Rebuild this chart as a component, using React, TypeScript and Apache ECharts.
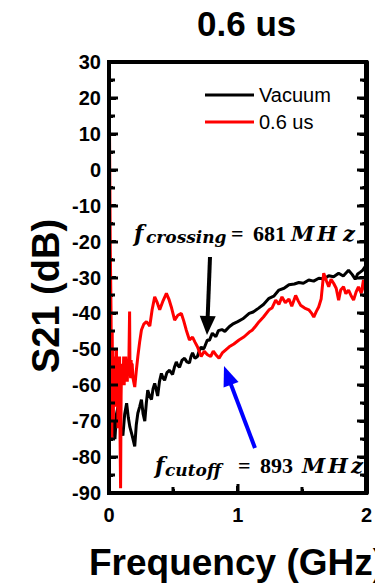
import React, { useEffect, useRef } from "react";
import * as echarts from "echarts";

// ---------- data (GHz, dB) ----------
const vacuumFreq = [
  0.003, 0.008, 0.015, 0.025, 0.035, 0.046, 0.058, 0.07, 0.09, 0.108, 0.122, 0.137, 0.15, 0.162, 0.18, 0.2,
  0.212, 0.224, 0.238, 0.252, 0.265, 0.278, 0.29, 0.301, 0.315, 0.33, 0.342, 0.355, 0.366, 0.378, 0.392, 0.407,
  0.42, 0.432, 0.45, 0.471, 0.483, 0.494, 0.508, 0.523, 0.535, 0.548, 0.568, 0.587, 0.605, 0.625, 0.637, 0.649,
  0.668, 0.687, 0.7, 0.716, 0.73, 0.741, 0.764, 0.78, 0.803, 0.83, 0.85, 0.877, 0.9, 0.934, 0.96, 1.0, 1.04,
  1.089, 1.12, 1.16, 1.2, 1.243, 1.28, 1.32, 1.36, 1.398, 1.44, 1.475, 1.51, 1.552, 1.59, 1.63, 1.67, 1.707, 1.745,
  1.784, 1.82, 1.861, 1.89, 1.913, 1.932, 1.952, 1.97, 1.99,
];
const vacuumS21 = [
  -42, -63, -70, -66, -72, -75, -68, -66, -72, -74, -68, -65, -69, -71.6, -74, -77,
  -71, -67.8, -66, -64, -68, -70, -65, -61.4, -63, -64, -61, -59.5, -61, -63, -59, -56.7,
  -58, -58.6, -56.5, -55.8, -56.5, -57, -55, -53.5, -54.5, -55, -53, -52.5, -53.5, -53.8, -52, -51,
  -52.5, -52, -50.5, -49.3, -50, -49.5, -47.4, -47.5, -45.5, -46.5, -44.8, -44.5, -45, -43.7, -43, -42.3, -41.5,
  -40, -39.6, -38.6, -37.5, -35.8, -35.2, -33.5, -33, -32, -31.8, -31.4, -31.6, -30.7, -31, -30.2, -30.4, -29.5, -29.8,
  -28.8, -29.6, -28, -29.2, -30.5, -29, -28.5, -28, -27,
];

const annealFreq = [
  0.004, 0.007, 0.01, 0.013, 0.016, 0.019, 0.022, 0.025, 0.028, 0.031, 0.034, 0.037, 0.04, 0.043, 0.047, 0.05,
  0.054, 0.058, 0.062, 0.066, 0.07, 0.074, 0.078, 0.082, 0.086, 0.09, 0.094, 0.098, 0.102, 0.106, 0.11, 0.114,
  0.118, 0.122, 0.126, 0.13, 0.134, 0.138, 0.142, 0.146, 0.15, 0.155, 0.16, 0.163, 0.168, 0.172, 0.176, 0.18,
  0.186, 0.2, 0.212, 0.224, 0.238, 0.252, 0.27, 0.291, 0.317, 0.335, 0.355, 0.375, 0.394, 0.42, 0.446, 0.465,
  0.484, 0.51, 0.535, 0.562, 0.58, 0.6, 0.625, 0.649, 0.668, 0.687, 0.716, 0.74, 0.765, 0.79, 0.81, 0.83, 0.855,
  0.88, 0.905, 0.934, 0.97, 1.01, 1.05, 1.09, 1.112, 1.14, 1.166, 1.2, 1.243, 1.266, 1.295, 1.32, 1.344, 1.37,
  1.398, 1.42, 1.45, 1.47, 1.488, 1.52, 1.552, 1.575, 1.591, 1.61, 1.629, 1.648, 1.668, 1.69, 1.707, 1.725,
  1.745, 1.765, 1.784, 1.8, 1.822, 1.84, 1.861, 1.88, 1.9, 1.92, 1.938, 1.96, 1.977, 1.992,
];
const annealS21 = [
  11, -5, -22, -30.7, -40, -58, -75, -45, -62, -50, -70, -53, -60, -52, -66, -54,
  -61, -50, -64, -55, -72, -58, -60, -52, -75, -88.7, -63, -54, -60, -55, -58, -52,
  -60, -54, -58, -52, -57, -53, -59, -54, -56, -52, -39.5, -55, -58, -53, -57, -54,
  -58, -60.5, -56, -52, -48, -44.6, -43, -42.3, -43.5, -39, -35.4, -37, -39, -36.5, -34.4, -36,
  -38.2, -41.9, -40.5, -40, -42, -44.6, -47.4, -46.6, -48, -49.3, -52, -50.5, -51.5, -52, -50.5, -51.5, -52.5,
  -51, -50.2, -49.3, -48.5, -47.4, -46.5, -45.2, -44.7, -43.5, -42.3, -41, -39, -38.5, -36.3, -37.5, -35.4, -37,
  -36, -38, -35, -36.5, -37.7, -38.5, -39, -40, -41, -39.5, -38.2, -36, -28.8, -31, -32.6, -30.5,
  -31.6, -33, -36.3, -33.5, -32.6, -34.5, -33.5, -35, -36.3, -34, -32.6, -34.4, -30.7, -34,
];

const seriesNames = ["Vacuum", "0.6 us"];
const xTickMin = 0;
const xTickMax = 2;
const xTickStep = 1;
const yTickMin = -90;
const yTickMax = 30;
const yTickStep = 10;

const SANS = '"Liberation Sans", Arial, sans-serif';
const SERIF = '"Liberation Serif", "Times New Roman", serif';
const MATH = '"DejaVu Serif", serif';

function zip(xs: number[], ys: number[]) {
  return xs.map((x, i) => [x, ys[i]]);
}

function arrow(tail: number[], tip: number[], color: string, headLen: number, headHalf: number) {
  const dx = tip[0] - tail[0];
  const dy = tip[1] - tail[1];
  const len = Math.sqrt(dx * dx + dy * dy);
  const ux = dx / len;
  const uy = dy / len;
  const bx = tip[0] - ux * headLen;
  const by = tip[1] - uy * headLen;
  const nx = -uy;
  const ny = ux;
  return [
    {
      type: "line",
      shape: { x1: tail[0], y1: tail[1], x2: bx + ux * 2, y2: by + uy * 2 },
      style: { stroke: color, lineWidth: 4 },
      z: 100,
    },
    {
      type: "polygon",
      shape: {
        points: [
          [tip[0], tip[1]],
          [bx + nx * headHalf, by + ny * headHalf],
          [bx - nx * headHalf, by - ny * headHalf],
        ],
      },
      style: { fill: color },
      z: 100,
    },
  ];
}

function txt(x: number, y: number, text: string, font: string) {
  return {
    type: "text",
    x,
    y,
    z: 100,
    style: { text, font, fill: "#000", textAlign: "left", textVerticalAlign: "middle" },
  };
}

function makeAxis(kind: "x" | "y", position: string, labels: boolean, ticks: boolean) {
  const isX = kind === "x";
  return {
    type: "value",
    min: isX ? xTickMin : yTickMin,
    max: isX ? xTickMax : yTickMax,
    interval: isX ? xTickStep : yTickStep,
    position,
    axisLine: { show: true, onZero: false, lineStyle: { color: "#000000", width: 4 } },
    axisTick: { show: ticks, inside: true, length: 7, lineStyle: { color: "#000000", width: 3 } },
    minorTick: { show: ticks, splitNumber: 2, length: 4, lineStyle: { color: "#000000", width: 3 } },
    axisLabel: {
      show: labels,
      fontSize: 20,
      fontWeight: "bold",
      fontFamily: SANS,
      color: "#000",
      margin: isX ? 12 : 8,
    },
    splitLine: { show: false },
    minorSplitLine: { show: false },
  };
}

// filled bar (used for frame edges and ticks)
function bar(x: number, y: number, w: number, h: number) {
  return {
    type: "rect",
    silent: true,
    z: 50,
    shape: { x, y, width: w, height: h },
    style: { fill: "#000000" },
  };
}

export default function App() {
  const ref = useRef<HTMLDivElement>(null);

  useEffect(() => {
    document.body.style.margin = "0";
    if (!ref.current) return;
    const chart = echarts.init(ref.current, undefined, { renderer: "svg" });

    const annotations: any[] = [
      {
        type: "text",
        x: 46,
        y: 296,
        rotation: Math.PI / 2,
        style: {
          text: "S21 (dB)",
          font: `bold 38px ${SANS}`,
          fill: "#000",
          textAlign: "center",
          textVerticalAlign: "middle",
        },
      },
      {
        type: "text",
        x: 89,
        y: 562,
        style: {
          text: "Frequency (GHz)",
          font: `bold 37px ${SANS}`,
          fill: "#000",
          textAlign: "left",
          textVerticalAlign: "middle",
        },
      },
      // f_crossing = 681 MHz
      txt(134, 233, "f", `italic bold 22px ${MATH}`),
      txt(146, 237, "crossing", `italic bold 17px ${MATH}`),
      txt(231, 233, "=", `bold 22px ${SERIF}`),
      txt(253, 233, "681", `bold 22px ${SERIF}`),
      txt(291, 233, "M", `italic bold 21px ${MATH}`),
      txt(317, 233, "H", `italic bold 21px ${MATH}`),
      txt(343, 233, "z", `italic bold 21px ${MATH}`),
      // f_cutoff = 893 MHz
      txt(155, 465, "f", `italic bold 22px ${MATH}`),
      txt(165, 470, "cutoff", `italic bold 17px ${MATH}`),
      txt(238, 465, "=", `bold 22px ${SERIF}`),
      txt(260, 465, "893", `bold 22px ${SERIF}`),
      txt(302, 465, "M", `italic bold 21px ${MATH}`),
      txt(328, 465, "H", `italic bold 21px ${MATH}`),
      txt(351, 465, "z", `italic bold 21px ${MATH}`),
      ...arrow([210, 257], [207, 335], "#000000", 19, 8),
      ...arrow([255, 448], [224, 366], "#0000ff", 20, 8),
    ];

    const option: any = {
      animation: false,
      title: {
        text: "0.6 us",
        left: 197,
        top: 6,
        padding: 0,
        textStyle: { fontSize: 35, fontWeight: "bold", fontFamily: SANS, color: "#000" },
      },
      legend: {
        data: seriesNames,
        orient: "vertical",
        left: 205,
        top: 85,
        padding: 0,
        itemWidth: 49,
        itemHeight: 3,
        itemGap: 7,
        icon: "rect",
        textStyle: { fontSize: 20, fontFamily: SANS, color: "#000" },
      },
      grid: {
        left: 109,
        top: 62,
        right: 7,
        bottom: 93,
        containLabel: false,
      },
      xAxis: [makeAxis("x", "bottom", true, true), makeAxis("x", "top", false, false)],
      yAxis: [makeAxis("y", "left", true, true), makeAxis("y", "right", false, true)],
      series: [
        {
          name: seriesNames[0],
          type: "line",
          data: zip(vacuumFreq, vacuumS21),
          showSymbol: false,
          symbol: "none",
          color: "#000000",
          lineStyle: { color: "#000000", width: 3 },
          clip: true,
        },
        {
          name: seriesNames[1],
          type: "line",
          data: zip(annealFreq, annealS21),
          showSymbol: false,
          symbol: "none",
          color: "#ff0000",
          lineStyle: { color: "#ff0000", width: 3 },
          clip: true,
        },
      ],
      graphic: annotations,
    };

    chart.setOption(option);

    // Frame and ticks as filled bars, placed through the chart's own axis scales.
    const finder = { xAxisIndex: 0, yAxisIndex: 0 };
    const pMin = chart.convertToPixel(finder, [xTickMin, yTickMin]) as number[];
    const pMax = chart.convertToPixel(finder, [xTickMax, yTickMax]) as number[];
    if (pMin && pMax) {
      const x0 = Math.round(pMin[0]);
      const x1 = Math.round(pMax[0]);
      const yB = Math.round(pMin[1]);
      const yT = Math.round(pMax[1]);
      const t = 4;
      const overlay: any[] = [
        bar(x0 - t / 2, yB - t / 2, x1 - x0 + t, t),
        bar(x0 - t / 2, yT - t / 2, x1 - x0 + t, t),
        bar(x0 - t / 2, yT - t / 2, t, yB - yT + t),
        bar(x1 - t / 2, yT - t / 2, t, yB - yT + t),
      ];
      const yHalf = yTickStep / 2;
      for (let v = yTickMin + yHalf; v < yTickMax; v += yHalf) {
        const major = Math.abs(v / yTickStep - Math.round(v / yTickStep)) < 1e-6;
        const len = major ? 7 : 4;
        const py = Math.round((chart.convertToPixel(finder, [xTickMin, v]) as number[])[1]);
        overlay.push(bar(x0, py - 1.5, t / 2 + len, 3));
        overlay.push(bar(x1 - t / 2 - len, py - 1.5, t / 2 + len, 3));
      }
      const xHalf = xTickStep / 2;
      for (let v = xTickMin + xHalf; v < xTickMax; v += xHalf) {
        const major = Math.abs(v / xTickStep - Math.round(v / xTickStep)) < 1e-6;
        const len = major ? 7 : 4;
        const px = Math.round((chart.convertToPixel(finder, [v, yTickMin]) as number[])[0]);
        overlay.push(bar(px - 1.5, yB - t / 2 - len, 3, t / 2 + len));
      }
      chart.setOption({ graphic: [...annotations, ...overlay] });
    }

    return () => chart.dispose();
  }, []);

  return <div ref={ref} style={{ width: 375, height: 586 }} />;
}
